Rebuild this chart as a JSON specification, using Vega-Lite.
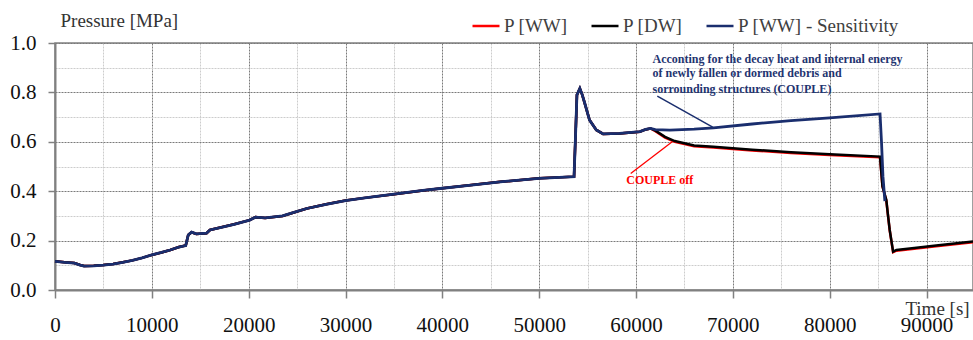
{
  "$schema": "https://vega.github.io/schema/vega-lite/v6.json",
  "width": 918,
  "height": 247,
  "autosize": {"type": "none"},
  "padding": {"left": 55, "top": 43, "right": 0, "bottom": 50},
  "background": "white",
  "config": {
    "view": {"stroke": "#808080", "strokeWidth": 1.5},
    "font": "Liberation Serif"
  },
  "datasets": {
    "red": [
      {"t": 0, "p": 0.116}, {"t": 1000, "p": 0.112}, {"t": 2000, "p": 0.109}, {"t": 2600, "p": 0.101},
      {"t": 3000, "p": 0.097}, {"t": 4000, "p": 0.098}, {"t": 5000, "p": 0.101}, {"t": 6000, "p": 0.105},
      {"t": 7000, "p": 0.112}, {"t": 8000, "p": 0.120}, {"t": 9000, "p": 0.130}, {"t": 10000, "p": 0.142},
      {"t": 11000, "p": 0.152}, {"t": 11900, "p": 0.162}, {"t": 12800, "p": 0.174}, {"t": 13500, "p": 0.180},
      {"t": 13760, "p": 0.223}, {"t": 14100, "p": 0.234}, {"t": 14600, "p": 0.227}, {"t": 15650, "p": 0.230},
      {"t": 16000, "p": 0.243}, {"t": 17400, "p": 0.256}, {"t": 18500, "p": 0.266}, {"t": 20100, "p": 0.283},
      {"t": 20700, "p": 0.295}, {"t": 21700, "p": 0.292}, {"t": 23500, "p": 0.300}, {"t": 24500, "p": 0.312},
      {"t": 26000, "p": 0.330}, {"t": 28000, "p": 0.347}, {"t": 30000, "p": 0.362}, {"t": 32000, "p": 0.373},
      {"t": 35000, "p": 0.388}, {"t": 38000, "p": 0.403}, {"t": 40000, "p": 0.412}, {"t": 43000, "p": 0.425},
      {"t": 46000, "p": 0.438}, {"t": 50000, "p": 0.452}, {"t": 53600, "p": 0.459}, {"t": 53750, "p": 0.62},
      {"t": 53900, "p": 0.79}, {"t": 54200, "p": 0.816}, {"t": 54450, "p": 0.790}, {"t": 54700, "p": 0.757},
      {"t": 55200, "p": 0.688}, {"t": 55900, "p": 0.648}, {"t": 56600, "p": 0.632}, {"t": 58300, "p": 0.634},
      {"t": 60400, "p": 0.641}, {"t": 61000, "p": 0.650}, {"t": 61500, "p": 0.654},
      {"t": 62000, "p": 0.643}, {"t": 63000, "p": 0.617}, {"t": 64000, "p": 0.600}, {"t": 66000, "p": 0.582},
      {"t": 68000, "p": 0.577}, {"t": 72000, "p": 0.565}, {"t": 76000, "p": 0.555}, {"t": 80000, "p": 0.547},
      {"t": 85200, "p": 0.537}, {"t": 85450, "p": 0.42}, {"t": 85850, "p": 0.362}, {"t": 86000, "p": 0.308},
      {"t": 86200, "p": 0.241}, {"t": 86550, "p": 0.153}, {"t": 86900, "p": 0.159}, {"t": 88500, "p": 0.166},
      {"t": 91000, "p": 0.177}, {"t": 94800, "p": 0.193}
    ],
    "black": [
      {"t": 0, "p": 0.116}, {"t": 1000, "p": 0.112}, {"t": 2000, "p": 0.109}, {"t": 2600, "p": 0.101},
      {"t": 3000, "p": 0.097}, {"t": 4000, "p": 0.098}, {"t": 5000, "p": 0.101}, {"t": 6000, "p": 0.105},
      {"t": 7000, "p": 0.112}, {"t": 8000, "p": 0.120}, {"t": 9000, "p": 0.130}, {"t": 10000, "p": 0.142},
      {"t": 11000, "p": 0.152}, {"t": 11900, "p": 0.162}, {"t": 12800, "p": 0.174}, {"t": 13500, "p": 0.180},
      {"t": 13760, "p": 0.223}, {"t": 14100, "p": 0.234}, {"t": 14600, "p": 0.227}, {"t": 15650, "p": 0.230},
      {"t": 16000, "p": 0.243}, {"t": 17400, "p": 0.256}, {"t": 18500, "p": 0.266}, {"t": 20100, "p": 0.283},
      {"t": 20700, "p": 0.295}, {"t": 21700, "p": 0.292}, {"t": 23500, "p": 0.300}, {"t": 24500, "p": 0.312},
      {"t": 26000, "p": 0.330}, {"t": 28000, "p": 0.347}, {"t": 30000, "p": 0.362}, {"t": 32000, "p": 0.373},
      {"t": 35000, "p": 0.388}, {"t": 38000, "p": 0.403}, {"t": 40000, "p": 0.412}, {"t": 43000, "p": 0.425},
      {"t": 46000, "p": 0.438}, {"t": 50000, "p": 0.452}, {"t": 53600, "p": 0.459}, {"t": 53750, "p": 0.62},
      {"t": 53900, "p": 0.79}, {"t": 54200, "p": 0.816}, {"t": 54450, "p": 0.790}, {"t": 54700, "p": 0.757},
      {"t": 55200, "p": 0.688}, {"t": 55900, "p": 0.648}, {"t": 56600, "p": 0.632}, {"t": 58300, "p": 0.634},
      {"t": 60400, "p": 0.641}, {"t": 61000, "p": 0.650}, {"t": 61500, "p": 0.654},
      {"t": 62000, "p": 0.645}, {"t": 63000, "p": 0.620}, {"t": 64000, "p": 0.603}, {"t": 66000, "p": 0.585},
      {"t": 68000, "p": 0.580}, {"t": 72000, "p": 0.568}, {"t": 76000, "p": 0.558}, {"t": 80000, "p": 0.550},
      {"t": 85200, "p": 0.540}, {"t": 85450, "p": 0.42}, {"t": 85850, "p": 0.364}, {"t": 86000, "p": 0.31},
      {"t": 86200, "p": 0.243}, {"t": 86550, "p": 0.155}, {"t": 86900, "p": 0.162}, {"t": 88500, "p": 0.169},
      {"t": 91000, "p": 0.180}, {"t": 94800, "p": 0.196}
    ],
    "blue": [
      {"t": 0, "p": 0.116}, {"t": 1000, "p": 0.112}, {"t": 2000, "p": 0.109}, {"t": 2600, "p": 0.101},
      {"t": 3000, "p": 0.097}, {"t": 4000, "p": 0.098}, {"t": 5000, "p": 0.101}, {"t": 6000, "p": 0.105},
      {"t": 7000, "p": 0.112}, {"t": 8000, "p": 0.120}, {"t": 9000, "p": 0.130}, {"t": 10000, "p": 0.142},
      {"t": 11000, "p": 0.152}, {"t": 11900, "p": 0.162}, {"t": 12800, "p": 0.174}, {"t": 13500, "p": 0.180},
      {"t": 13760, "p": 0.223}, {"t": 14100, "p": 0.234}, {"t": 14600, "p": 0.227}, {"t": 15650, "p": 0.230},
      {"t": 16000, "p": 0.243}, {"t": 17400, "p": 0.256}, {"t": 18500, "p": 0.266}, {"t": 20100, "p": 0.283},
      {"t": 20700, "p": 0.295}, {"t": 21700, "p": 0.292}, {"t": 23500, "p": 0.300}, {"t": 24500, "p": 0.312},
      {"t": 26000, "p": 0.330}, {"t": 28000, "p": 0.347}, {"t": 30000, "p": 0.362}, {"t": 32000, "p": 0.373},
      {"t": 35000, "p": 0.388}, {"t": 38000, "p": 0.403}, {"t": 40000, "p": 0.412}, {"t": 43000, "p": 0.425},
      {"t": 46000, "p": 0.438}, {"t": 50000, "p": 0.452}, {"t": 53600, "p": 0.459}, {"t": 53750, "p": 0.62},
      {"t": 53900, "p": 0.79}, {"t": 54200, "p": 0.816}, {"t": 54450, "p": 0.790}, {"t": 54700, "p": 0.757},
      {"t": 55200, "p": 0.688}, {"t": 55900, "p": 0.648}, {"t": 56600, "p": 0.632}, {"t": 58300, "p": 0.634},
      {"t": 60400, "p": 0.641}, {"t": 61000, "p": 0.650}, {"t": 61500, "p": 0.654},
      {"t": 62000, "p": 0.649}, {"t": 63500, "p": 0.647}, {"t": 66000, "p": 0.651}, {"t": 68000, "p": 0.656},
      {"t": 72000, "p": 0.672}, {"t": 76000, "p": 0.686}, {"t": 80000, "p": 0.697}, {"t": 85200, "p": 0.713},
      {"t": 85350, "p": 0.60}, {"t": 85500, "p": 0.46}, {"t": 85700, "p": 0.36}
    ]
  },
  "encoding": {
    "x": {
      "field": "t", "type": "quantitative",
      "scale": {"domain": [0, 94800], "nice": false, "zero": false},
      "axis": {
        "title": "Time [s]",
        "values": [0, 5000, 10000, 15000, 20000, 25000, 30000, 35000, 40000, 45000, 50000, 55000, 60000, 65000, 70000, 75000, 80000, 85000, 90000],
        "format": "d",
        "labelExpr": "datum.value % 10000 === 0 ? datum.label : ''",
        "labelFlush": false, "labelOverlap": false, "labelBound": false,
        "labelFont": "Liberation Serif", "labelFontSize": 21, "labelColor": "#111111", "labelPadding": 16,
        "tickSize": 8, "tickColor": "#808080", "tickWidth": 1.5,
        "tickOpacity": {"condition": {"test": "datum.value % 10000 === 0", "value": 1}, "value": 0},
        "grid": true,
        "gridColor": {"condition": {"test": "datum.value % 10000 === 0", "value": "#7a7a7a"}, "value": "#cccccc"},
        "gridDash": [2, 1], "gridWidth": 1,
        "domainColor": "#808080", "domainWidth": 2,
        "titleFont": "Liberation Serif", "titleFontSize": 19, "titleFontWeight": "normal", "titleColor": "#333333",
        "titleX": 882, "titleY": 18, "titleAlign": "center", "titleBaseline": "middle", "titleAnchor": null
      }
    },
    "y": {
      "field": "p", "type": "quantitative",
      "scale": {"domain": [0, 1], "nice": false, "zero": false},
      "axis": {
        "title": "Pressure [MPa]",
        "values": [0, 0.1, 0.2, 0.3, 0.4, 0.5, 0.6, 0.7, 0.8, 0.9, 1.0],
        "format": ".1f",
        "labelExpr": "round(datum.value*10) % 2 === 0 ? datum.label : ''",
        "labelOverlap": false, "labelBound": false, "labelFlush": false,
        "labelFont": "Liberation Serif", "labelFontSize": 21, "labelColor": "#111111", "labelPadding": 12,
        "tickSize": 7, "tickColor": "#808080", "tickWidth": 1.5,
        "tickOpacity": {"condition": {"test": "round(datum.value*10) % 2 === 0", "value": 1}, "value": 0},
        "grid": true,
        "gridColor": {"condition": {"test": "round(datum.value*10) % 2 === 0", "value": "#7a7a7a"}, "value": "#cccccc"},
        "gridDash": [2, 1], "gridWidth": 1,
        "domainColor": "#808080", "domainWidth": 2,
        "titleFont": "Liberation Serif", "titleFontSize": 19, "titleFontWeight": "normal", "titleColor": "#333333",
        "titleAngle": 0, "titleX": 5, "titleY": -23, "titleAlign": "left", "titleBaseline": "middle", "titleAnchor": null
      }
    }
  },
  "layer": [
    {
      "data": {"name": "red"},
      "mark": {"type": "line", "strokeWidth": 2.5},
      "encoding": {
        "color": {
          "datum": "P [WW]", "type": "nominal",
          "scale": {"domain": ["P [WW]", "P [DW]", "P [WW] - Sensitivity"], "range": ["#ff0000", "#000000", "#1a2e6e"]},
          "legend": {
            "title": null, "orient": "none", "direction": "horizontal", "legendX": 416, "legendY": -32,
            "symbolType": "stroke", "symbolSize": 729, "symbolStrokeWidth": 2.5, "labelLimit": 0,
            "labelFont": "Liberation Serif", "labelFontSize": 19, "labelColor": "#404040", "labelOffset": 3,
            "columnPadding": 18, "padding": 0
          }
        }
      }
    },
    {
      "data": {"name": "black"},
      "mark": {"type": "line", "strokeWidth": 2.5},
      "encoding": {
        "color": {"datum": "P [DW]", "type": "nominal"}
      }
    },
    {
      "data": {"name": "blue"},
      "mark": {"type": "line", "strokeWidth": 2.8},
      "encoding": {
        "color": {"datum": "P [WW] - Sensitivity", "type": "nominal"}
      }
    },
    {
      "data": {"values": [{"t": 62200, "p": 0.785, "t2": 68100, "p2": 0.655}]},
      "mark": {"type": "rule", "color": "#1a2e6e", "strokeWidth": 1.5},
      "encoding": {
        "x2": {"field": "t2"},
        "y2": {"field": "p2"}
      }
    },
    {
      "data": {"values": [{"t": 59450, "p": 0.472, "t2": 63740, "p2": 0.600}]},
      "mark": {"type": "rule", "color": "#ff0000", "strokeWidth": 1.3},
      "encoding": {
        "x2": {"field": "t2"},
        "y2": {"field": "p2"}
      }
    },
    {
      "data": {"values": [
        {"t": 61700, "p": 0.935, "label": "Acconting for the decay heat and internal energy"},
        {"t": 61700, "p": 0.877, "label": "of newly fallen or dormed debris and"},
        {"t": 61700, "p": 0.814, "label": "sorrounding structures (COUPLE)"}
      ]},
      "mark": {"type": "text", "align": "left", "baseline": "middle", "font": "Liberation Serif", "fontWeight": "bold", "fontSize": 12, "color": "#1f3470"},
      "encoding": {
        "text": {"field": "label"}
      }
    },
    {
      "data": {"values": [{"t": 59000, "p": 0.445, "label": "COUPLE off"}]},
      "mark": {"type": "text", "align": "left", "baseline": "middle", "font": "Liberation Serif", "fontWeight": "bold", "fontSize": 12, "color": "#ff0000"},
      "encoding": {
        "text": {"field": "label"}
      }
    }
  ]
}
